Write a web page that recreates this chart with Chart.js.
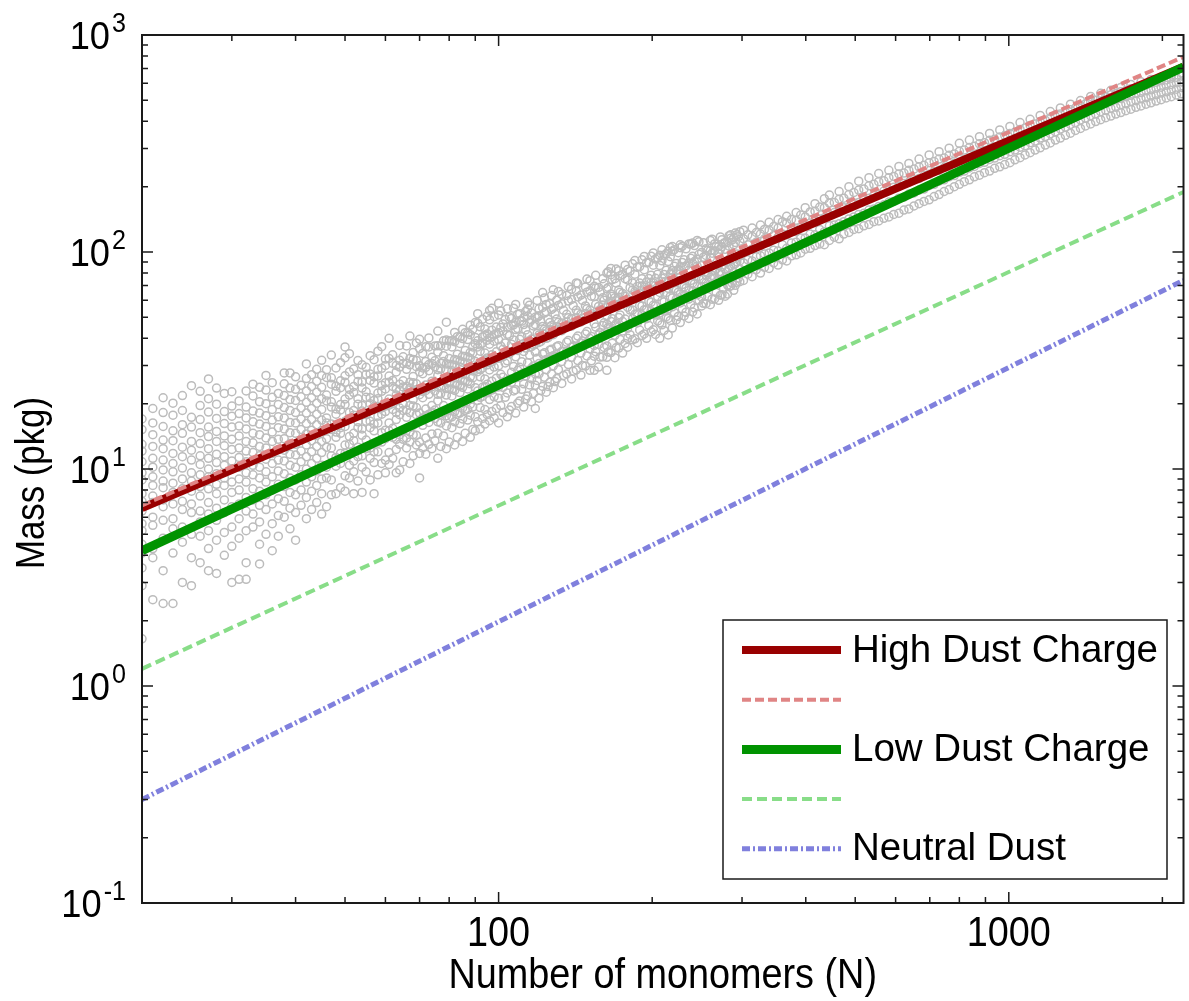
<!DOCTYPE html>
<html>
<head>
<meta charset="utf-8">
<title>Mass vs number of monomers</title>
<script src="https://cdn.jsdelivr.net/npm/chart.js@4.4.1/dist/chart.umd.min.js"></script>
<style>
  html, body { margin: 0; padding: 0; background: #fff; }
  #chart { display: block; }
</style>
</head>
<body>
<canvas id="chart" width="1189" height="1001"></canvas>
<script>
// power-law fits, read at both ends of the axis (straight lines on log-log)
const lineN = [20, 2200];
const highCharge = [6.6, 715];
const highChargeFit = [6.8, 792];
const lowCharge = [4.2, 712];
const lowChargeFit = [1.2, 189];
const neutralDust = [0.3, 74];

const legendLabels = ["High Dust Charge", "", "Low Dust Charge", "", "Neutral Dust"];
const xTickLabels = [100, 1000];
const yTickExponents = [-1, 0, 1, 2, 3];

// simulated aggregates: first entry of a row is N, the rest are masses (pkg) seen at that N
const aggregates = [
  [20, 1.65, 2.9, 3.5, 4.1, 4.5, 5.2, 5.6, 6.4, 7.1, 7.7, 8.9, 9.6, 10.8, 12.1, 13.0, 15.2, 17.0],
  [21, 2.5, 3.9, 4.3, 5.5, 6.0, 7.0, 7.5, 8.4, 9.2, 10.2, 11.2, 12.7, 14.4, 16.3, 19.0],
  [22, 2.4, 3.4, 4.8, 5.8, 6.7, 7.2, 8.2, 8.8, 9.9, 11.0, 12.4, 13.6, 15.7, 18.2, 21.3],
  [23, 2.4, 4.1, 5.3, 5.9, 6.9, 7.8, 8.6, 9.7, 10.6, 11.8, 13.5, 15.0, 17.7, 20.1],
  [24, 3.0, 4.6, 5.4, 6.5, 7.1, 8.1, 9.0, 10.1, 11.4, 12.6, 14.6, 16.0, 18.6, 21.8],
  [25, 2.9, 3.9, 5.0, 6.3, 6.9, 7.9, 8.8, 9.6, 11.0, 12.2, 13.4, 15.6, 17.3, 24.2],
  [26, 3.7, 4.9, 5.7, 6.4, 7.5, 8.3, 9.4, 10.5, 11.5, 13.1, 14.7, 16.9, 19.6, 22.8],
  [27, 3.4, 4.3, 5.2, 6.2, 7.0, 8.1, 9.2, 10.0, 11.2, 12.4, 14.1, 15.6, 18.3, 21.1, 26.0],
  [28, 3.3, 4.7, 5.8, 6.6, 7.7, 8.5, 9.5, 10.7, 11.7, 13.4, 14.9, 17.1, 19.9, 23.6],
  [29, 4.0, 5.1, 6.3, 7.2, 8.4, 9.1, 10.4, 11.4, 12.8, 14.2, 16.2, 18.4, 22.3],
  [30, 3.0, 4.4, 5.4, 6.7, 7.8, 8.7, 10.0, 10.9, 12.3, 13.7, 15.6, 17.5, 19.5, 22.7],
  [31, 3.1, 4.8, 5.9, 6.9, 8.0, 9.0, 10.2, 11.3, 12.5, 14.2, 15.8, 18.0, 20.6],
  [32, 3.1, 3.7, 5.2, 6.4, 7.4, 8.7, 9.6, 10.8, 12.1, 13.4, 15.3, 17.2, 19.3, 22.9],
  [33, 5.4, 6.2, 7.2, 8.1, 9.4, 10.4, 11.9, 13.2, 14.6, 16.5, 18.5, 21.7, 24.6],
  [34, 3.65, 4.5, 5.7, 6.8, 7.9, 9.1, 10.2, 11.5, 12.7, 14.4, 16.1, 18.1, 20.4, 23.8],
  [35, 5.0, 6.5, 7.6, 8.7, 9.7, 11.1, 12.5, 13.9, 15.7, 17.6, 20.0, 23.1, 27.0],
  [36, 4.2, 5.6, 6.9, 8.0, 9.2, 10.6, 11.8, 13.4, 14.8, 16.8, 18.8, 21.4, 25.0],
  [37, 4.9, 6.1, 7.3, 8.5, 9.8, 11.0, 12.3, 13.7, 15.5, 17.4, 19.8, 22.3],
  [38, 6.0, 7.1, 8.3, 9.5, 10.9, 12.2, 13.8, 15.3, 17.2, 19.2, 21.8, 24.7, 27.7],
  [39, 5.3, 6.6, 7.8, 9.1, 10.4, 11.7, 13.1, 14.7, 16.4, 18.6, 20.9, 23.6, 27.7],
  [40, 4.7, 6.3, 7.6, 8.9, 10.2, 11.6, 13.0, 14.6, 16.3, 18.2, 20.7, 23.3, 26.6],
  [41, 6.8, 8.0, 9.4, 10.8, 12.1, 13.6, 15.2, 17.0, 19.1, 21.5, 24.3],
  [42, 5.9, 7.4, 8.7, 10.0, 11.4, 12.9, 14.5, 16.2, 18.1, 20.3, 22.9, 26.1, 30.5],
  [43, 6.5, 7.9, 9.2, 10.6, 12.0, 13.5, 15.1, 16.9, 19.0, 21.3, 24.0, 27.2],
  [44, 7.0, 8.4, 9.8, 11.2, 12.7, 14.3, 16.0, 17.9, 20.1, 22.6, 25.4, 28.8],
  [45, 6.2, 7.7, 9.0, 10.4, 11.9, 13.4, 15.0, 16.8, 18.8, 21.1, 23.8, 27.0, 31.7],
  [46, 6.7, 9.1, 10.2, 12.6, 13.8, 16.3, 17.2, 20.6, 21.9, 26.4, 28.7],
  [47, 7.6, 8.9, 11.5, 12.5, 15.2, 16.1, 19.3, 20.4, 24.6, 26.3, 33.5],
  [48, 7.7, 10.3, 11.3, 14.0, 14.8, 17.9, 18.9, 22.8, 24.1, 29.2],
  [49, 8.2, 10.6, 11.8, 14.6, 15.5, 18.7, 19.8, 23.7, 25.5, 30.9],
  [50, 7.9, 9.3, 11.8, 12.9, 15.7, 16.6, 19.8, 21.0, 25.1, 26.9, 32.6, 36.5],
  [51, 9.1, 10.4, 13.0, 14.1, 17.1, 18.2, 21.9, 23.3, 28.0, 34.0],
  [52, 7.7, 9.7, 10.9, 13.5, 14.6, 17.7, 18.6, 22.5, 24.0, 28.9],
  [53, 8.8, 11.4, 12.6, 15.5, 16.5, 19.9, 21.1, 25.3, 27.2, 31.6],
  [54, 7.8, 10.2, 11.5, 14.3, 15.3, 18.5, 19.6, 23.6, 25.2, 30.2],
  [55, 9.7, 12.4, 13.6, 16.6, 17.8, 21.4, 22.7, 27.3, 29.4],
  [56, 8.9, 11.2, 12.5, 15.5, 16.6, 20.0, 21.3, 25.6, 27.4, 33.3],
  [57, 7.7, 10.7, 12.0, 15.0, 16.1, 19.4, 20.7, 24.9, 26.6, 31.9],
  [58, 9.4, 12.0, 13.3, 16.3, 17.5, 21.1, 22.4, 26.8, 28.8, 34.9],
  [59, 10.6, 13.3, 14.7, 17.9, 19.1, 22.8, 24.3, 29.1, 36.6],
  [60, 9.6, 11.0, 13.8, 15.1, 18.4, 19.5, 23.4, 25.0, 30.0, 32.1],
  [61, 10.5, 11.9, 15.0, 16.3, 19.7, 21.0, 25.1, 26.8, 32.3, 40.0],
  [62, 11.2, 14.0, 15.4, 18.8, 20.0, 24.0, 25.6, 30.7, 33.6],
  [63, 9.6, 12.3, 13.7, 16.9, 18.2, 21.9, 23.4, 28.0, 30.0],
  [64, 9.9, 13.0, 14.4, 17.8, 19.1, 23.1, 24.6, 29.5, 31.7, 37.1],
  [65, 10.8, 13.7, 15.1, 18.6, 19.9, 23.9, 25.5, 30.6, 32.9],
  [66, 12.5, 13.9, 17.3, 18.7, 22.6, 24.0, 28.8, 30.7, 36.9],
  [67, 10.6, 13.3, 14.8, 18.2, 19.6, 23.6, 25.1, 30.2, 32.3, 41.0],
  [68, 11.5, 14.4, 15.9, 19.5, 20.9, 25.0, 26.7, 32.0, 34.4],
  [69, 12.9, 14.3, 17.8, 19.2, 23.2, 24.7, 29.6, 31.6, 38.1],
  [70, 9.1, 11.8, 13.3, 16.7, 18.1, 22.0, 23.4, 28.0, 29.9, 35.9, 39.6],
  [71, 12.5, 15.9, 17.2, 21.3, 22.8, 27.5, 29.2, 34.1],
  [72, 11.7, 13.9, 17.6, 18.9, 23.0, 24.4, 29.4, 31.3, 36.6],
  [73, 13.0, 16.4, 17.9, 22.1, 23.6, 28.4, 30.3, 36.5, 40.2],
  [74, 12.4, 14.5, 18.3, 19.6, 23.9, 25.4, 30.6, 32.7],
  [75, 13.5, 17.1, 18.7, 22.9, 24.5, 29.6, 31.5, 36.9],
  [76, 11.2, 14.6, 16.5, 20.6, 22.1, 27.0, 28.7, 34.6, 37.0, 43.2],
  [77, 12.7, 16.3, 17.9, 22.2, 23.8, 28.9, 30.7, 36.9],
  [78, 14.2, 18.1, 19.6, 24.2, 25.9, 31.3, 33.3, 39.0],
  [79, 12.4, 15.8, 17.6, 21.9, 23.5, 28.6, 30.5, 36.8, 39.3, 47.5],
  [80, 13.3, 17.2, 18.9, 23.4, 25.1, 30.4, 32.3, 38.9],
  [81, 15.5, 17.4, 21.7, 23.3, 28.4, 30.2, 36.5, 39.0],
  [82, 12.9, 16.5, 18.4, 23.0, 24.8, 30.1, 32.0, 38.6, 42.6],
  [83, 14.0, 17.9, 19.8, 24.4, 26.2, 31.7, 33.8, 40.7],
  [84, 16.2, 18.1, 22.5, 24.3, 29.5, 31.4, 37.9, 40.6],
  [85, 13.4, 17.0, 19.1, 23.8, 25.6, 31.0, 33.1, 39.9, 44.0],
  [86, 14.6, 18.6, 20.6, 25.4, 27.3, 33.0, 35.2, 42.5],
  [87, 16.8, 18.8, 23.4, 25.3, 30.7, 32.8, 39.5, 42.4],
  [88, 14.0, 17.7, 19.9, 24.7, 26.6, 32.3, 34.5, 41.6, 46.0],
  [89, 15.2, 19.3, 21.4, 26.3, 28.3, 34.2, 36.5, 44.1],
  [90, 15.0, 17.4, 21.7, 23.7, 29.2, 31.3, 37.8, 40.4, 47.3],
  [91, 16.5, 20.7, 22.9, 28.1, 30.2, 36.5, 39.0, 47.0, 52.0],
  [92, 15.3, 19.2, 21.4, 26.6, 28.7, 34.9, 37.3, 45.2],
  [93, 17.1, 21.6, 23.8, 29.2, 31.4, 38.0, 40.6, 49.0],
  [94, 16.1, 18.8, 23.8, 26.0, 31.9, 34.2, 41.3, 44.2],
  [95, 17.8, 22.4, 24.6, 30.2, 32.5, 39.2, 41.9, 50.6],
  [96, 16.7, 20.9, 23.1, 28.6, 30.9, 37.6, 40.2, 48.7, 53.8],
  [97, 18.4, 23.1, 25.4, 31.2, 33.6, 40.7, 43.6, 55.0],
  [98, 17.2, 21.5, 23.8, 29.5, 31.9, 38.8, 41.6, 50.3],
  [99, 19.0, 23.9, 26.2, 32.3, 34.7, 42.0, 45.1],
  [100, 16.3, 21.2, 23.9, 29.9, 32.4, 39.4, 42.4, 51.3, 58.0],
  [102, 18.2, 23.8, 26.5, 32.9, 35.6, 43.3, 46.6],
  [104, 17.4, 22.4, 25.2, 31.5, 34.2, 41.8, 45.0, 54.7],
  [106, 19.4, 25.1, 27.9, 34.7, 37.6, 45.9, 49.4],
  [108, 18.1, 23.2, 26.3, 32.9, 35.8, 43.9, 47.3, 57.3],
  [110, 20.6, 26.4, 29.4, 36.6, 39.6, 48.2, 52.0],
  [112, 19.3, 24.7, 27.7, 34.8, 37.8, 46.3, 49.9],
  [114, 21.7, 27.8, 30.9, 38.4, 41.6, 50.7, 54.6, 58.6],
  [116, 20.4, 26.0, 29.2, 36.6, 39.7, 48.6, 52.4],
  [118, 19.0, 24.3, 27.4, 34.6, 37.7, 46.3, 50.0],
  [120, 21.2, 27.4, 30.6, 38.3, 41.5, 50.8, 54.7],
  [122, 24.0, 30.6, 33.9, 42.0, 45.4, 55.5, 65.0],
  [124, 22.6, 28.7, 32.0, 40.0, 43.4, 53.1, 57.3],
  [126, 25.1, 32.0, 35.3, 43.8, 47.3, 57.8],
  [128, 23.7, 29.9, 33.3, 41.6, 45.1, 55.2, 67.0],
  [130, 26.1, 33.1, 36.6, 45.3, 49.1, 60.0],
  [133, 24.8, 31.3, 34.8, 43.4, 47.1, 57.7, 63.8],
  [136, 27.4, 34.8, 38.4, 47.6, 51.6, 63.1],
  [139, 26.0, 32.7, 36.4, 45.5, 49.4, 60.4, 67.4],
  [142, 28.6, 36.2, 40.0, 49.7, 53.9, 66.0, 72.0],
  [145, 27.1, 34.2, 38.1, 47.6, 51.7, 63.3],
  [148, 29.8, 37.9, 41.9, 52.0, 56.4, 68.9],
  [151, 28.5, 35.8, 39.9, 49.8, 54.0, 66.2, 73.8],
  [154, 28.5, 33.1, 37.1, 46.7, 50.8, 62.3, 69.5],
  [157, 29.5, 37.5, 41.5, 51.7, 56.1, 68.7],
  [160, 32.9, 41.6, 45.9, 57.0, 61.5, 75.3],
  [163, 28.5, 32.7, 36.9, 46.5, 50.8, 62.5, 67.7, 80.0],
  [166, 34.4, 43.4, 47.8, 59.3, 64.1, 78.6, 84.0],
  [169, 32.6, 41.3, 45.7, 56.9, 61.5, 75.3],
  [172, 36.1, 45.3, 49.9, 61.8, 66.8, 81.9],
  [175, 34.2, 43.3, 47.8, 59.4, 64.3, 78.8],
  [179, 36.4, 40.0, 44.5, 55.7, 60.5, 74.3, 83.0],
  [183, 39.4, 49.3, 54.0, 66.8, 72.0, 88.2],
  [187, 38.2, 47.1, 51.8, 64.2, 69.4, 85.0],
  [191, 41.2, 51.4, 56.4, 69.7, 75.2, 92.1],
  [195, 40.0, 49.3, 54.2, 67.3, 72.8, 89.2],
  [199, 42.9, 53.6, 58.7, 72.5, 78.2, 95.7],
  [203, 41.7, 51.3, 56.5, 70.0, 75.7, 92.8],
  [207, 40.0, 47.2, 52.3, 65.1, 70.6, 86.7, 96.5],
  [211, 43.5, 53.5, 58.8, 72.9, 78.8, 96.5],
  [215, 41.5, 49.4, 54.6, 68.0, 73.7, 90.5, 100.8],
  [219, 44.6, 55.9, 61.4, 76.1, 82.2, 100.7, 106.0],
  [223, 48.6, 60.7, 66.4, 82.0, 88.4],
  [227, 47.3, 58.2, 63.9, 79.2, 85.5, 104.7, 108.0],
  [231, 50.7, 63.2, 69.1, 85.3, 92.0],
  [236, 49.4, 60.7, 66.5, 82.4, 89.0, 108.9],
  [240, 52.9, 65.9, 72.0, 88.7, 95.5, 110.0],
  [245, 51.8, 63.5, 69.4, 85.9, 92.7, 113.0],
  [250, 56.4, 62.1, 68.8, 75.0, 86.7, 99.6],
  [255, 57.8, 71.9, 78.3, 96.4, 103.6],
  [260, 57.2, 69.9, 76.2, 94.2, 101.4, 113.0],
  [265, 60.8, 75.5, 82.3, 101.4, 108.9],
  [270, 59.9, 73.1, 79.8, 98.4, 106.0],
  [274, 63.5, 78.8, 85.8, 105.8, 114.0],
  [278, 62.6, 76.4, 83.4, 102.9, 110.6],
  [281, 64.0, 70.4, 77.4, 89.9, 110.5],
  [285, 69.8, 86.6, 94.1, 115.6, 120.0],
  [289, 66.6, 80.5, 87.7, 107.9, 116.0],
  [293, 72.5, 90.0, 97.8, 120.2],
  [297, 73.0, 83.6, 91.0, 112.1, 124.0],
  [302, 74, 89, 99, 115, 126],
  [308, 79, 92, 108, 120],
  [314, 77, 91, 103, 118, 129],
  [320, 83, 95, 111, 123],
  [326, 80, 96, 107, 121, 133],
  [332, 85, 98, 115, 127],
  [339, 84, 99, 111, 126, 137],
  [346, 89, 102, 119, 131],
  [353, 87, 101, 117, 129, 141],
  [360, 92, 108, 121, 138],
  [367, 91, 104, 120, 136, 146],
  [375, 96, 110, 128, 141],
  [383, 97, 111, 124, 140, 152],
  [391, 99, 116, 130, 148],
  [399, 103, 116, 132, 145, 160],
  [408, 104, 121, 136, 153],
  [417, 107, 120, 139, 154, 167],
  [426, 109, 127, 142, 161],
  [435, 108, 124, 144, 160, 176],
  [445, 113, 132, 148, 168, 183],
  [455, 117, 133, 152, 169],
  [465, 115, 135, 153, 175, 190],
  [475, 121, 138, 160, 177],
  [486, 123, 142, 161, 184, 200],
  [497, 127, 145, 168, 188],
  [508, 128, 149, 169, 193, 212],
  [520, 132, 151, 175, 195],
  [532, 134, 156, 177, 202, 220],
  [544, 138, 158, 183, 205],
  [556, 139, 162, 184, 211, 230],
  [569, 143, 165, 191, 213],
  [582, 145, 170, 193, 220, 238],
  [595, 149, 171, 199, 223],
  [609, 151, 177, 201, 229, 248],
  [623, 156, 179, 207, 231],
  [637, 158, 185, 210, 238, 256],
  [652, 163, 187, 216, 241],
  [667, 167, 193, 218, 247, 268],
  [682, 171, 195, 225, 251],
  [698, 174, 202, 228, 258, 280],
  [714, 180, 205, 235, 261],
  [730, 184, 212, 238, 268, 290],
  [747, 190, 215, 245, 271],
  [764, 194, 222, 248, 279, 301],
  [782, 200, 225, 256, 283],
  [800, 205, 233, 259, 291, 317],
  [818, 211, 236, 267, 295],
  [837, 215, 244, 271, 303, 328],
  [856, 222, 248, 279, 307],
  [876, 226, 256, 283, 315, 340],
  [896, 232, 259, 291, 319],
  [917, 236, 267, 295, 327, 352],
  [938, 243, 271, 303, 331],
  [960, 247, 278, 307, 339, 365],
  [982, 253, 282, 315, 344],
  [1005, 258, 290, 319, 352, 379],
  [1028, 266, 295, 328, 357],
  [1052, 272, 304, 334, 367, 395],
  [1076, 280, 309, 343, 373],
  [1101, 287, 319, 349, 383, 409],
  [1126, 295, 325, 359, 389],
  [1152, 302, 335, 365, 399, 426],
  [1179, 311, 341, 375, 405],
  [1206, 318, 351, 381, 415, 444],
  [1234, 328, 358, 392, 422],
  [1262, 335, 369, 399, 433, 461],
  [1291, 345, 376, 411, 441],
  [1321, 353, 387, 418, 453, 480],
  [1351, 363, 394, 430, 461],
  [1382, 371, 406, 437, 473, 499],
  [1414, 381, 413, 449, 481],
  [1447, 389, 424, 457, 493, 521],
  [1480, 399, 432, 469, 501],
  [1514, 407, 443, 476, 513, 539],
  [1549, 416, 449, 486, 519],
  [1585, 423, 459, 493, 530, 556],
  [1621, 432, 465, 503, 537],
  [1658, 439, 476, 510, 548, 573],
  [1696, 448, 482, 520, 555],
  [1735, 455, 492, 527, 566, 591],
  [1775, 464, 498, 537, 572],
  [1816, 471, 508, 543, 582, 609],
  [1858, 480, 514, 553, 589],
  [1900, 487, 524, 559, 599, 624],
  [1944, 496, 530, 569, 605],
  [1989, 503, 540, 575, 615, 639],
  [2035, 513, 547, 586, 621],
  [2082, 520, 557, 592, 632, 654],
  [2130, 529, 563, 602, 638],
  [2180, 536, 573, 608, 648, 669]
];

// more aggregates filling the dense middle of the cloud
const aggregatesMid = [
  [101, 19.6, 27.3, 36.8, 44.9, 53.5],
  [103, 21.4, 30.8, 38.1, 48.9],
  [105, 18.7, 25.9, 34.0, 41.2, 50.2],
  [107, 22.9, 29.7, 39.3, 46.1, 55.1],
  [109, 20.1, 28.5, 35.2, 44.4, 51.6],
  [111, 23.3, 31.2, 40.7, 48.0],
  [113, 21.0, 26.8, 36.1, 43.7, 53.2],
  [115, 24.4, 33.5, 39.0, 47.5, 56.9],
  [117, 22.3, 29.8, 37.2, 45.6],
  [119, 25.6, 32.4, 42.1, 49.9, 59.8],
  [121, 23.0, 30.1, 38.7, 47.9],
  [123, 26.5, 34.3, 44.1, 52.3, 61.4],
  [125, 24.0, 31.5, 40.3, 49.0],
  [127, 27.4, 35.6, 45.8, 54.4, 63.0],
  [129, 25.3, 32.8, 42.6, 51.8],
  [131, 28.7, 37.0, 47.4, 56.7, 65.8],
  [134, 27.0, 34.9, 44.7, 53.9],
  [137, 30.3, 39.1, 49.8, 59.4, 69.3],
  [140, 28.2, 36.8, 46.9, 56.6],
  [143, 31.6, 41.0, 52.3, 62.1, 71.5],
  [146, 30.0, 38.9, 49.5, 59.8],
  [149, 33.2, 43.0, 54.8, 65.3, 75.0],
  [152, 31.5, 40.8, 52.0, 62.6],
  [155, 34.7, 45.1, 57.4, 68.3, 78.1],
  [158, 32.8, 42.6, 54.2, 65.5],
  [161, 36.3, 47.2, 60.0, 71.4],
  [164, 34.6, 44.9, 57.1, 68.7, 81.2],
  [167, 38.0, 49.3, 62.6, 74.6],
  [170, 36.2, 46.8, 59.6, 71.9, 83.5],
  [173, 39.5, 51.3, 65.2, 77.8],
  [177, 37.9, 49.1, 62.5, 75.3, 86.9],
  [181, 41.6, 54.0, 68.5, 81.7],
  [185, 39.8, 51.6, 65.6, 79.0, 91.3],
  [189, 43.7, 56.7, 71.9, 85.7],
  [193, 41.9, 54.2, 68.9, 82.9, 95.4],
  [197, 45.9, 59.5, 75.4, 89.8],
  [201, 43.8, 56.8, 72.2, 86.9, 99.0],
  [205, 48.1, 62.3, 78.9, 94.0],
  [209, 46.2, 59.6, 75.7, 91.1, 102.3],
  [213, 50.3, 65.1, 82.4, 98.1],
  [217, 48.4, 62.4, 79.2, 95.2, 104.9],
  [221, 52.6, 67.9, 85.9, 102.5],
  [225, 50.5, 65.3, 82.8, 99.3],
  [229, 54.8, 70.8, 89.5, 106.2],
  [233, 52.7, 68.1, 86.3, 103.4],
  [238, 57.3, 74.0, 93.5, 108.8],
  [242, 55.2, 71.3, 90.3, 107.1],
  [247, 59.9, 77.2, 97.6, 111.4],
  [252, 58.0, 74.8, 94.7, 110.3],
  [257, 62.4, 80.4, 101.6],
  [262, 60.6, 78.0, 98.8, 114.6],
  [267, 65.1, 83.8, 105.8],
  [272, 63.2, 81.3, 102.9, 117.4],
  [276, 67.7, 87.1, 109.7],
  [283, 69.2, 84.7, 106.3, 118.9],
  [287, 71.9, 92.4, 113.8],
  [291, 70.2, 88.3, 110.6, 122.3],
  [295, 75.8, 95.2, 117.7]
];

const plotFont = "'Liberation Sans', Arial, Helvetica, sans-serif";

const scatterPoints = aggregates.concat(aggregatesMid).flatMap(row =>
  row.slice(1).map(m => ({ x: row[0], y: m }))
);
const ends = values => lineN.map((n, i) => ({ x: n, y: values[i] }));

function fitLine(label, values, color, width, dash, order) {
  return {
    label, data: ends(values), showLine: true, pointRadius: 0,
    borderColor: color, backgroundColor: color, borderWidth: width,
    borderDash: dash, borderCapStyle: "butt", fill: false, order, clip: 0
  };
}

const lineSets = [
  fitLine(legendLabels[0], highCharge, "#990000", 8, [], 5),
  fitLine(legendLabels[1], highChargeFit, "#e08585", 4, [9, 4], 4),
  fitLine(legendLabels[2], lowCharge, "#009300", 9, [], 3),
  fitLine(legendLabels[3], lowChargeFit, "#88dd88", 4, [10, 5], 2),
  fitLine(legendLabels[4], neutralDust, "#8080dd", 5, [8, 3, 2, 3], 1)
];

// draws text squeezed horizontally, like the narrow axis font of the original
function narrowText(ctx, text, x, y, sx, align) {
  ctx.save();
  ctx.translate(x, y);
  ctx.scale(sx, 1);
  ctx.textAlign = align;
  ctx.fillText(text, 0, 0);
  ctx.restore();
}

const axesAndLegend = {
  id: "axesAndLegend",
  afterDraw(chart) {
    const { ctx, chartArea: a } = chart;
    const xs = chart.scales.x, ys = chart.scales.y;
    ctx.save();

    // ticks pointing into the plot, on all four sides
    ctx.strokeStyle = "#1a1a1a";
    ctx.lineWidth = 1.5;
    ctx.beginPath();
    for (let d = 1; d <= 3; d++) {
      for (let k = 1; k <= 9; k++) {
        const v = k * Math.pow(10, d);
        if (v < xs.min || v > xs.max) continue;
        const px = xs.getPixelForValue(v);
        const len = k === 1 ? 11 : 6;
        ctx.moveTo(px, a.bottom); ctx.lineTo(px, a.bottom - len);
        ctx.moveTo(px, a.top); ctx.lineTo(px, a.top + len);
      }
    }
    for (let d = -1; d <= 2; d++) {
      for (let k = 1; k <= 9; k++) {
        const v = k * Math.pow(10, d);
        const py = ys.getPixelForValue(v);
        const len = k === 1 ? 11 : 6;
        ctx.moveTo(a.left, py); ctx.lineTo(a.left + len, py);
        ctx.moveTo(a.right, py); ctx.lineTo(a.right - len, py);
      }
    }
    ctx.stroke();

    // frame
    ctx.lineWidth = 2;
    ctx.strokeRect(a.left, a.top, a.right - a.left, a.bottom - a.top);

    // tick labels
    ctx.fillStyle = "#000";
    ctx.textBaseline = "middle";
    ctx.font = "42px " + plotFont;
    xTickLabels.forEach(v => {
      narrowText(ctx, String(v), xs.getPixelForValue(v), a.bottom + 31, 0.9, "center");
    });
    ctx.textBaseline = "alphabetic";
    yTickExponents.forEach(e => {
      const py = ys.getPixelForValue(Math.pow(10, e));
      const sup = String(e);
      ctx.font = "27px " + plotFont;
      const supW = ctx.measureText(sup).width * 0.93;
      const right = a.left - 16;
      narrowText(ctx, sup, right - supW, py - 3, 0.93, "left");
      ctx.font = "39px " + plotFont;
      narrowText(ctx, "10", right - supW - 2, py + 14, 0.93, "right");
    });

    // axis titles
    ctx.textBaseline = "middle";
    ctx.font = "42px " + plotFont;
    narrowText(ctx, "Number of monomers (N)", (a.left + a.right) / 2, a.bottom + 73, 0.9, "center");
    ctx.save();
    ctx.translate(33, 483);
    ctx.rotate(-Math.PI / 2);
    ctx.font = "40px " + plotFont;
    narrowText(ctx, "Mass (pkg)", 0, 0, 0.87, "center");
    ctx.restore();

    // legend box in the lower right corner of the plot
    const box = { left: 723, top: 620, right: 1167, bottom: 879 };
    ctx.fillStyle = "#fff";
    ctx.fillRect(box.left, box.top, box.right - box.left, box.bottom - box.top);
    ctx.strokeStyle = "#1a1a1a";
    ctx.lineWidth = 1.5;
    ctx.strokeRect(box.left, box.top, box.right - box.left, box.bottom - box.top);
    ctx.font = "38.5px " + plotFont;
    ctx.textBaseline = "middle";
    ctx.textAlign = "left";
    lineSets.forEach((ds, i) => {
      const y = box.top + 30 + i * 49.7;
      ctx.save();
      ctx.strokeStyle = ds.borderColor;
      ctx.lineWidth = ds.borderWidth;
      ctx.setLineDash(ds.borderDash);
      ctx.beginPath();
      ctx.moveTo(box.left + 19, y);
      ctx.lineTo(box.left + 118, y);
      ctx.stroke();
      ctx.restore();
      ctx.fillStyle = "#000";
      if (ds.label) ctx.fillText(ds.label, box.left + 129, y + 1);
    });

    ctx.restore();
  }
};

new Chart(document.getElementById("chart"), {
  type: "scatter",
  data: {
    datasets: [
      ...lineSets,
      {
        label: "aggregates",
        data: scatterPoints,
        pointStyle: "circle",
        pointRadius: 4,
        pointBorderWidth: 1.5,
        borderColor: "rgb(188,188,188)",
        backgroundColor: "rgba(0,0,0,0)",
        order: 10,
        clip: 0
      }
    ]
  },
  options: {
    responsive: false,
    animation: false,
    events: [],
    layout: { padding: { left: 142, top: 35, right: 5, bottom: 98 } },
    plugins: { legend: { display: false }, tooltip: { enabled: false } },
    scales: {
      x: { type: "logarithmic", min: 20, max: 2200, display: false },
      y: { type: "logarithmic", min: 0.1, max: 1000, display: false }
    }
  },
  plugins: [axesAndLegend]
});
</script>
</body>
</html>
